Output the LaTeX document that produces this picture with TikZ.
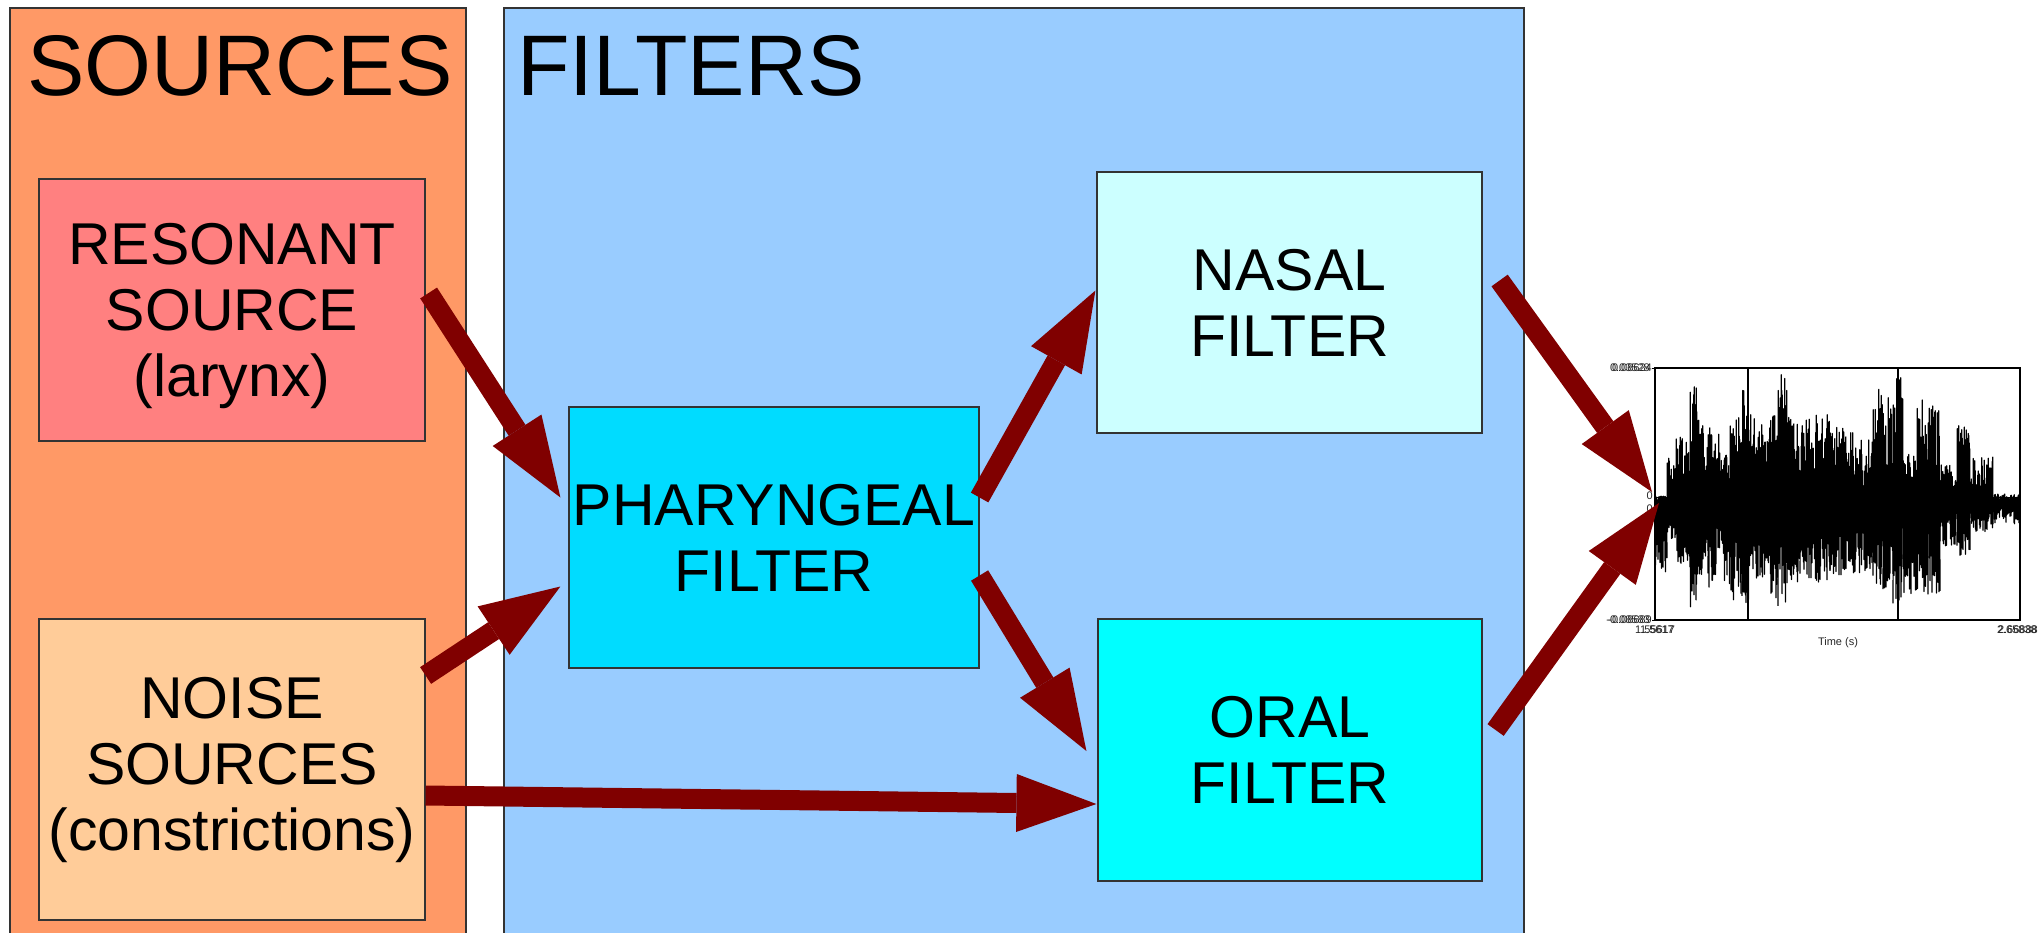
\documentclass[tikz,border=0pt]{standalone}
\usepackage{fontspec}
\setmainfont{Liberation Sans}
\usetikzlibrary{arrows.meta,calc}
\definecolor{srcpanel}{HTML}{FF9966}
\definecolor{filtpanel}{HTML}{99CCFF}
\definecolor{resfill}{HTML}{FF8080}
\definecolor{noisefill}{HTML}{FFCC99}
\definecolor{pharfill}{HTML}{00DCFF}
\definecolor{nasalfill}{HTML}{CCFFFF}
\definecolor{oralfill}{HTML}{00FFFF}
\definecolor{arrowred}{HTML}{800000}
\tikzset{
  panel/.style={draw=black!80, line width=1.2pt},
  box/.style={draw=black!80, line width=1.2pt, align=center, inner sep=0pt,
    font=\fontsize{59}{66}\selectfont},
  boxtext/.style={align=center, inner sep=0pt, font=\fontsize{59}{66}\selectfont},
  title/.style={anchor=base west, inner sep=0pt, font=\fontsize{86}{90}\selectfont},
  bigarrow/.style={draw=arrowred, line width=20pt,
    -{Triangle[length=80pt,width=58pt,line width=0pt]}},
  wave/.style={draw=black, line width=1.1pt, line join=round},
  tick/.style={font=\fontsize{11}{12}\selectfont, inner sep=0pt, text=black!85},
}
\begin{document}
\begin{tikzpicture}[x=1pt,y=-1pt]
\useasboundingbox (0,0) rectangle (2038,932);
% panels
\draw[panel, fill=srcpanel] (10,8) rectangle (466,950);
\draw[panel, fill=filtpanel] (504,8) rectangle (1524,950);
\node[title] (srct) at (27,95) {SOURCES};
\node[title] (filt) at (517,95) {FILTERS};
% boxes
\node[box, fill=resfill, minimum width=386pt, minimum height=262pt] (res) at (232,310) {};
\node[boxtext] (restext) at ($(res.center)+(0,6)$) {RESONANT\\SOURCE\\(larynx)};
\node[box, fill=noisefill, minimum width=386pt, minimum height=301pt] (noise) at (232,769.5) {NOISE\\SOURCES\\(constrictions)};
\node[box, fill=pharfill, minimum width=410pt, minimum height=261pt] (phar) at (774,537.5) {PHARYNGEAL\\FILTER};
\node[box, fill=nasalfill, minimum width=385pt, minimum height=261pt] (nasal) at (1289.5,302.5) {NASAL\\FILTER};
\node[box, fill=oralfill, minimum width=384pt, minimum height=262pt] (oral) at (1290,750) {ORAL\\FILTER};
% waveform plot
\coordinate (pnw) at (1655,368);
\coordinate (pse) at (2020,620);
\draw[black, line width=1pt] (1655,497) -- (2020,497);
\draw[black, line width=1pt] (1655,507) -- (2020,507);
\pgfmathsetseed{7}
\foreach \a/\b/\u/\d in {
 1655/1667/6/70, 1667/1676/45/40, 1676/1690/65/62, 1690/1697/118/110,
 1697/1708/85/78, 1708/1720/75/88, 1720/1730/52/82, 1730/1742/85/98,
 1742/1750/112/104, 1750/1770/88/78, 1770/1778/98/98, 1778/1787/128/112,
 1787/1800/90/82, 1800/1815/84/76, 1815/1830/88/80, 1830/1853/76/74,
 1853/1873/62/72, 1873/1883/115/88, 1883/1893/105/94, 1893/1903/130/104,
 1903/1917/48/92, 1917/1928/105/98, 1928/1940/100/94, 1940/1957/38/44,
 1957/1970/82/55, 1970/1993/45/30, 1993/2020/8/22}
{
  \pgfmathtruncatemacro\n{(\b-\a)*4+1}
  \draw[wave] plot[domain=\a:\b, samples=\n]
    (\x, {502 + (mod(round(4*\x),2)==0 ? \d : -\u)*(0.2+0.8*rnd)});
}
\draw[black, line width=1.2pt] (pnw) rectangle (pse);
\draw[black, line width=1.2pt] (1748,368) -- (1748,620);
\draw[black, line width=1.2pt] (1898,368) -- (1898,620);
\draw[black, line width=1pt] (1652,368) -- (1655,368);
\draw[black, line width=1pt] (1652,620) -- (1655,620);
\node[tick, anchor=east] (ymax1) at (1652,368) {0.08624};
\node[tick, anchor=east] (ymax2) at (1650,368) {0.03528};
\node[tick, anchor=east] (ymin1) at (1652,620) {-0.08689};
\node[tick, anchor=east] (ymin2) at (1650,620) {-0.08583};
\node[tick, anchor=east] (z1) at (1653,496) {0};
\node[tick, anchor=east] (z2) at (1653,509) {0};
\node[tick, anchor=north] (t0a) at (1655,626) {1.55617};
\node[tick, anchor=north] (t0b) at (1657,626) {1.5617};
\node[tick, anchor=north east] (t1a) at (2038,626) {2.66888};
\node[tick, anchor=north east] (t1b) at (2037,626) {2.65838};
\node[tick, anchor=north] (tlab) at (1838,637) {Time (s)};
% arrows
\coordinate (w1) at (1652,492);
\coordinate (w2) at (1659,503);
\draw[bigarrow] ($(res.east)+(3,-17)$) -- ($(phar.west)+(-8,-40)$);
\draw[bigarrow] ($(noise.east)+(0,-94)$) -- ($(phar.west)+(-8,49)$);
\draw[bigarrow] ($(noise.east)+(0,26)$) -- ($(oral.west)+(-1,54)$);
\draw[bigarrow] ($(phar.east)+(0,-40)$) -- ($(nasal.west)+(-1,-12)$);
\draw[bigarrow] ($(phar.east)+(0,38)$) -- ($(oral.west)+(-11,1)$);
\draw[bigarrow] ($(nasal.east)+(17,-22)$) -- (w1);
\draw[bigarrow] ($(oral.east)+(13,-20)$) -- (w2);
\end{tikzpicture}
\end{document}
